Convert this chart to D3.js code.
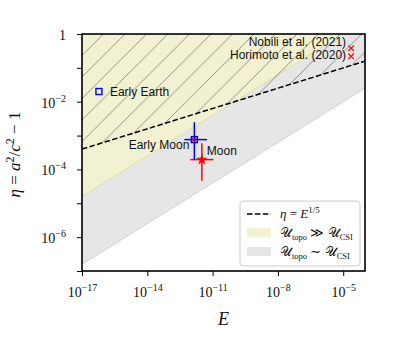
<!DOCTYPE html>
<html>
<head>
<meta charset="utf-8">
<script src="https://d3js.org/d3.v7.min.js"></script>
<style>
  body { margin: 0; background: #fff; }
  .note { font-family: "Liberation Sans", sans-serif; font-size: 12px; fill: #111; }
  .math { font-family: "Liberation Serif", serif; fill: #111; }
</style>
</head>
<body>
<svg id="chart"></svg>
<script>
// axis ranges and ticks
var xDomain = [1e-17, 1e-4];
var yDomain = [1e-7, 1];
var xTickVals = [1e-17, 1e-14, 1e-11, 1e-8, 1e-5];
var xTickExp = ["\u221217", "\u221214", "\u221211", "\u22128", "\u22125"];
var yTickVals = [1, 1e-1, 1e-2, 1e-3, 1e-4, 1e-5, 1e-6, 1e-7];
var yTickExp = ["0", "", "\u22122", "", "\u22124", "", "\u22126", ""];

// regime boundaries, end points
var lineE = [1e-17, 1e-4];
var dashedEta = [3.98e-4, 0.158];   // eta = E^(1/5)
var csiLowEta = [1.58e-7, 0.0251];  // lower edge of grey band
var topoLowEta = [1.58e-5, 2.51];   // lower edge of yellow band

// observations
var earlyEarth = {E: 6e-17, eta: 0.02};
var earlyMoon = {E: 1.45e-12, eta: 7.6e-4, Elo: 5.0e-13, Ehi: 5.5e-12, etaLo: 2.0e-4, etaHi: 2.5e-3};
var moon = {E: 3.2e-12, eta: 1.95e-4, Elo: 9.5e-13, Ehi: 1.1e-11, etaLo: 4.6e-5, etaHi: 5.9e-4};
var labE = [2.3e-5, 2.3e-5];
var labEta = [0.38, 0.22];
var labNames = ["Nobili et al. (2021)", "Horimoto et al. (2020)"];

var W = 407, H = 339;
var margin = {top: 34, right: 42, bottom: 68, left: 82};
var w = W - margin.left - margin.right, h = H - margin.top - margin.bottom;

var svg = d3.select("#chart").attr("width", W).attr("height", H);
var defs = svg.append("defs");
defs.append("clipPath").attr("id", "clip")
  .append("rect").attr("width", w).attr("height", h);

var hs = 21.5;
defs.append("pattern").attr("id", "hatch")
  .attr("patternUnits", "userSpaceOnUse")
  .attr("width", hs).attr("height", hs)
  .append("path")
  .attr("d", "M0," + hs + "L" + hs + ",0M" + (-hs / 2) + "," + (hs / 2) + "L" + (hs / 2) + "," + (-hs / 2) +
             "M" + (hs / 2) + "," + (hs * 1.5) + "L" + (hs * 1.5) + "," + (hs / 2))
  .attr("stroke", "#666").attr("stroke-width", 0.7);

var g = svg.append("g").attr("transform", "translate(" + margin.left + "," + margin.top + ")");

var x = d3.scaleLog().domain(xDomain).range([0, w]);
var y = d3.scaleLog().domain(yDomain).range([h, 0]);

var plot = g.append("g").attr("clip-path", "url(#clip)");
var line = d3.line().x(function(d) { return x(d[0]); }).y(function(d) { return y(d[1]); });
var yTop = yDomain[1] * 10;

// grey band: U_topo ~ U_CSI
var grey = [[lineE[0], csiLowEta[0]], [lineE[1], csiLowEta[1]], [lineE[1], topoLowEta[1]], [lineE[0], topoLowEta[0]]];
plot.append("path").attr("d", line(grey) + "Z").attr("fill", "#e6e6e6");
// yellow: U_topo >> U_CSI
var yellow = [[lineE[0], topoLowEta[0]], [lineE[1], topoLowEta[1]], [lineE[1], yTop], [lineE[0], yTop]];
plot.append("path").attr("d", line(yellow) + "Z").attr("fill", "#f2f2d3");
plot.append("path").attr("d", line([[lineE[0], csiLowEta[0]], [lineE[1], csiLowEta[1]]]))
  .attr("stroke", "#d2d2d2").attr("stroke-width", 1).attr("fill", "none");
plot.append("path").attr("d", line([[lineE[0], topoLowEta[0]], [lineE[1], topoLowEta[1]]]))
  .attr("stroke", "#dcdcb0").attr("stroke-width", 1).attr("fill", "none");

// hatched region above eta = E^(1/5)
var hatch = [[lineE[0], dashedEta[0]], [lineE[1], dashedEta[1]], [lineE[1], yTop], [lineE[0], yTop]];
plot.append("path").attr("d", line(hatch) + "Z").attr("fill", "url(#hatch)");

plot.append("path").attr("d", line([[lineE[0], dashedEta[0]], [lineE[1], dashedEta[1]]]))
  .attr("stroke", "#000").attr("stroke-width", 1.5).attr("stroke-dasharray", "5.5,2.4").attr("fill", "none");

// axes
function supLabel(sel, exp) {
  sel.text(null);
  if (exp === "") return;
  if (exp === "0") { sel.append("tspan").text("1"); return; }
  sel.append("tspan").text("10");
  sel.append("tspan").attr("dy", -6).attr("font-size", 10).text(exp);
}

var xAx = g.append("g").attr("transform", "translate(0," + h + ")")
  .call(d3.axisBottom(x).tickValues(xTickVals).tickSize(5).tickSizeOuter(0));
xAx.select(".domain").remove();
xAx.selectAll(".tick line").attr("stroke", "#000").attr("stroke-width", 1);
xAx.selectAll(".tick text")
  .attr("y", 26).attr("dy", null)
  .attr("font-family", "Liberation Serif, serif").attr("font-size", 14).attr("fill", "#111")
  .each(function(d, i) { supLabel(d3.select(this), xTickExp[i]); });

var yAx = g.append("g")
  .call(d3.axisLeft(y).tickValues(yTickVals).tickSize(5).tickSizeOuter(0));
yAx.select(".domain").remove();
yAx.selectAll(".tick line").attr("stroke", "#000").attr("stroke-width", 1);
yAx.selectAll(".tick text")
  .attr("x", -16).attr("dy", null).attr("y", 5.5)
  .attr("font-family", "Liberation Serif, serif").attr("font-size", 14).attr("fill", "#111")
  .each(function(d, i) { supLabel(d3.select(this), yTickExp[i]); });

// frame
g.append("rect").attr("width", w).attr("height", h)
  .attr("fill", "none").attr("stroke", "#000").attr("stroke-width", 1.6);

// axis labels
svg.append("text").attr("class", "math")
  .attr("x", margin.left + w / 2).attr("y", 325).attr("text-anchor", "middle")
  .attr("font-size", 18).attr("font-style", "italic").text("E");

var yl = svg.append("text").attr("class", "math")
  .attr("transform", "translate(20," + (margin.top + h / 2 + 2) + ") rotate(-90)")
  .attr("text-anchor", "middle").attr("font-size", 17);
yl.append("tspan").attr("font-style", "italic").text("\u03b7");
yl.append("tspan").text(" = ");
yl.append("tspan").attr("font-style", "italic").text("a");
yl.append("tspan").attr("dy", -6).attr("font-size", 12).text("2");
yl.append("tspan").attr("dy", 6).text("/");
yl.append("tspan").attr("font-style", "italic").text("c");
yl.append("tspan").attr("dy", -6).attr("font-size", 12).text("2");
yl.append("tspan").attr("dy", 6).text(" \u2212 1");

// observations
var pts = g.append("g");
function errBars(d, col) {
  pts.append("line").attr("x1", x(d.Elo)).attr("x2", x(d.Ehi)).attr("y1", y(d.eta)).attr("y2", y(d.eta))
    .attr("stroke", col).attr("stroke-width", 1.5);
  pts.append("line").attr("x1", x(d.E)).attr("x2", x(d.E)).attr("y1", y(d.etaLo)).attr("y2", y(d.etaHi))
    .attr("stroke", col).attr("stroke-width", 1.5);
}
function square(d) {
  pts.append("rect").attr("x", x(d.E) - 3).attr("y", y(d.eta) - 3).attr("width", 6).attr("height", 6)
    .attr("fill", "none").attr("stroke", "#0000ff").attr("stroke-width", 1.4);
}
function cross(E, eta, s) {
  pts.append("path")
    .attr("d", "M" + (x(E) - s) + "," + (y(eta) - s) + "L" + (x(E) + s) + "," + (y(eta) + s) +
               "M" + (x(E) - s) + "," + (y(eta) + s) + "L" + (x(E) + s) + "," + (y(eta) - s))
    .attr("stroke", "#ff0000").attr("stroke-width", 1.2).attr("fill", "none");
}

square(earlyEarth);
errBars(moon, "#ff0000");
errBars(earlyMoon, "#0000ff");
square(earlyMoon);
cross(earlyMoon.E, earlyMoon.eta, 2);
pts.append("path").attr("d", d3.symbol().type(d3.symbolStar).size(40)())
  .attr("transform", "translate(" + x(moon.E) + "," + y(moon.eta) + ")").attr("fill", "#ff0000");

labE.forEach(function(E, i) { cross(E, labEta[i], 2.8); });

// annotations
pts.append("text").attr("class", "note").attr("x", x(earlyEarth.E) + 11).attr("y", y(earlyEarth.eta) + 4)
  .text("Early Earth");
pts.append("text").attr("class", "note").attr("x", x(earlyMoon.E) - 5).attr("y", y(earlyMoon.eta) + 9)
  .attr("text-anchor", "end").text("Early Moon");
pts.append("text").attr("class", "note").attr("x", x(moon.E) + 5).attr("y", y(moon.eta) - 5)
  .text("Moon");
var labDy = [-2.5, 2.8];
labNames.forEach(function(n, i) {
  pts.append("text").attr("class", "note").attr("x", x(labE[i]) - 5).attr("y", y(labEta[i]) + labDy[i])
    .attr("text-anchor", "end").attr("font-size", 11).text(n);
});

// legend
var lg = svg.append("g").attr("transform", "translate(240,201)");
lg.append("rect").attr("width", 120).attr("height", 65).attr("rx", 3)
  .attr("fill", "#fff").attr("fill-opacity", 0.85).attr("stroke", "#cccccc").attr("stroke-width", 1);
lg.append("line").attr("x1", 7).attr("x2", 31).attr("y1", 13).attr("y2", 13)
  .attr("stroke", "#000").attr("stroke-width", 1.5).attr("stroke-dasharray", "5.5,2.4");
lg.append("rect").attr("x", 7).attr("y", 27).attr("width", 24).attr("height", 9).attr("fill", "#f2f2d3");
lg.append("rect").attr("x", 7).attr("y", 46).attr("width", 24).attr("height", 9).attr("fill", "#e6e6e6");

var t1 = lg.append("text").attr("class", "math").attr("x", 40).attr("y", 17).attr("font-size", 13);
t1.append("tspan").attr("font-style", "italic").text("\u03b7");
t1.append("tspan").text(" = ");
t1.append("tspan").attr("font-style", "italic").text("E");
t1.append("tspan").attr("dy", -5).attr("font-size", 9).text("1/5");

function uLabel(yy, rel) {
  var t = lg.append("text").attr("class", "math").attr("x", 40).attr("y", yy).attr("font-size", 13);
  t.append("tspan").text("\ud835\udcb0");
  t.append("tspan").attr("dy", 3).attr("font-size", 8.5).text("topo");
  t.append("tspan").attr("dy", -3).text(" " + rel + " ");
  t.append("tspan").text("\ud835\udcb0");
  t.append("tspan").attr("dy", 3).attr("font-size", 8.5).text("CSI");
}
uLabel(36, "\u226b");
uLabel(55, "\u223c");
</script>
</body>
</html>
